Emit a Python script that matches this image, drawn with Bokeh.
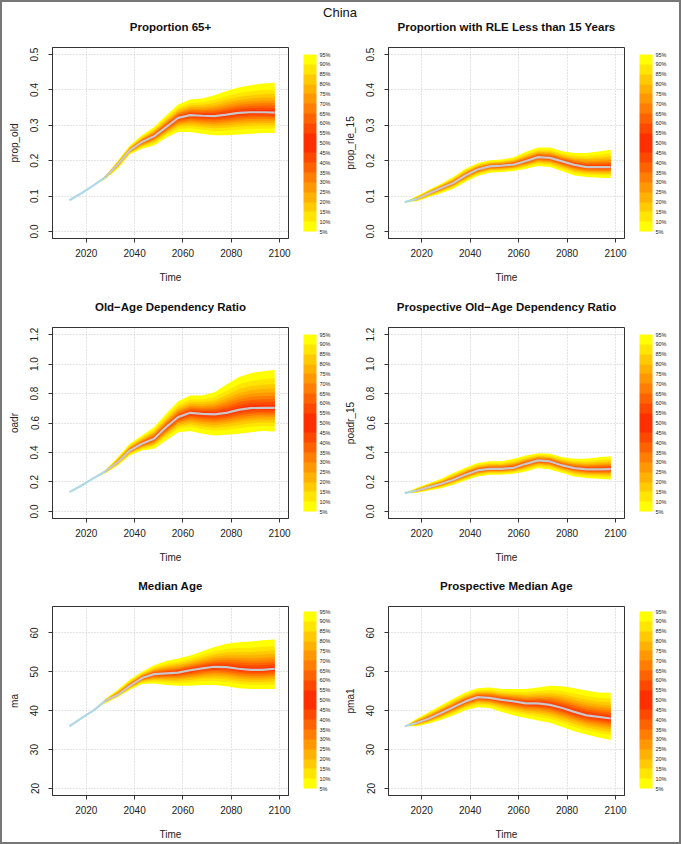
from statistics import NormalDist
from bokeh.plotting import figure
from bokeh.layouts import gridplot, column
from bokeh.models import (ColorBar, LinearColorMapper, FixedTicker,
                          PrintfTickFormatter, Range1d, AllLabels)
from bokeh.embed import file_html
from bokeh.resources import INLINE
from bokeh.core.properties import value

FONT = "Liberation Sans"

years = [2013, 2018, 2023, 2028, 2033, 2038, 2043, 2048, 2053,
         2058, 2063, 2068, 2073, 2078, 2083, 2088, 2093, 2098]
x_ticks = [2020, 2040, 2060, 2080, 2100]
legend_levels = list(range(5, 100, 5))

# --- Proportion 65+ (fan from 2023) ---
prop_old_med = [0.088, 0.108, 0.130, 0.154, 0.190, 0.229, 0.253, 0.269, 0.295,
                0.321, 0.329, 0.327, 0.326, 0.330, 0.335, 0.337, 0.337, 0.336]
prop_old_hi = [0.130, 0.158, 0.200, 0.243, 0.272, 0.295, 0.328, 0.359,
               0.373, 0.376, 0.385, 0.397, 0.407, 0.413, 0.418, 0.420]
prop_old_lo = [0.130, 0.149, 0.177, 0.218, 0.234, 0.243, 0.265, 0.281,
               0.281, 0.276, 0.272, 0.272, 0.274, 0.276, 0.278, 0.278]

# --- Proportion with RLE < 15 (fan from 2013) ---
rle_med = [0.083, 0.092, 0.108, 0.123, 0.137, 0.158, 0.175, 0.184, 0.186,
           0.189, 0.199, 0.210, 0.208, 0.198, 0.188, 0.182, 0.182, 0.182]
rle_hi = [0.083, 0.100, 0.118, 0.135, 0.154, 0.177, 0.193, 0.201, 0.203,
          0.210, 0.225, 0.237, 0.237, 0.227, 0.222, 0.222, 0.226, 0.231]
rle_lo = [0.083, 0.085, 0.097, 0.108, 0.121, 0.140, 0.157, 0.166, 0.168,
          0.171, 0.177, 0.185, 0.182, 0.170, 0.158, 0.154, 0.152, 0.151]

# --- Old-Age Dependency Ratio (fan from 2023) ---
oadr_med = [0.131, 0.176, 0.226, 0.273, 0.334, 0.414, 0.459, 0.493, 0.572,
            0.640, 0.669, 0.662, 0.658, 0.669, 0.689, 0.701, 0.703, 0.703]
oadr_hi = [0.226, 0.282, 0.368, 0.459, 0.515, 0.572, 0.662, 0.748,
           0.786, 0.786, 0.809, 0.861, 0.911, 0.938, 0.951, 0.960]
oadr_lo = [0.226, 0.260, 0.312, 0.380, 0.414, 0.425, 0.481, 0.538,
           0.545, 0.527, 0.515, 0.520, 0.527, 0.538, 0.545, 0.542]

# --- Prospective Old-Age Dependency Ratio (fan from 2013) ---
poadr_med = [0.124, 0.142, 0.165, 0.188, 0.215, 0.249, 0.278, 0.289, 0.289,
             0.296, 0.323, 0.346, 0.339, 0.312, 0.294, 0.285, 0.285, 0.287]
poadr_hi = [0.124, 0.160, 0.192, 0.221, 0.260, 0.296, 0.328, 0.341, 0.341,
            0.357, 0.380, 0.395, 0.391, 0.368, 0.357, 0.357, 0.368, 0.375]
poadr_lo = [0.124, 0.127, 0.142, 0.158, 0.181, 0.210, 0.237, 0.249, 0.249,
            0.255, 0.271, 0.294, 0.285, 0.260, 0.237, 0.226, 0.221, 0.217]

# --- Median Age (fan from 2023) ---
ma_med = [36.0, 38.1, 40.1, 42.6, 44.1, 46.4, 48.4, 49.4, 49.6,
          49.8, 50.4, 50.9, 51.3, 51.2, 50.8, 50.5, 50.5, 50.8]
ma_hi = [40.1, 43.1, 45.4, 48.0, 50.0, 51.7, 52.8, 53.4,
         54.2, 55.3, 56.4, 57.2, 57.6, 57.8, 58.1, 58.3]
ma_lo = [40.1, 42.0, 43.5, 45.4, 46.9, 47.0, 46.6, 46.4,
         46.4, 46.6, 46.6, 46.3, 45.8, 45.6, 45.6, 45.6]

# --- Prospective Median Age (fan from 2013) ---
pma_med = [36.0, 36.9, 38.0, 39.4, 40.9, 42.4, 43.5, 43.3, 42.8,
           42.4, 41.9, 41.9, 41.5, 40.7, 39.7, 38.8, 38.4, 38.0]
pma_hi = [36.0, 38.0, 39.7, 41.4, 43.1, 44.7, 45.8, 46.0, 45.6,
          45.6, 45.6, 46.0, 46.4, 46.3, 45.8, 45.2, 44.7, 44.6]
pma_lo = [36.0, 36.0, 36.7, 37.7, 38.8, 40.1, 40.9, 40.7, 39.7,
          38.8, 38.1, 37.5, 36.9, 35.8, 34.7, 33.9, 33.1, 32.5]

ratio_ticks_a = [0.0, 0.1, 0.2, 0.3, 0.4, 0.5]
ratio_ticks_b = [0.0, 0.2, 0.4, 0.6, 0.8, 1.0, 1.2]
age_ticks = [20, 30, 40, 50, 60]

main_title = "China"
titles = ["Proportion 65+", "Proportion with RLE Less than 15 Years",
          "Old\u2212Age Dependency Ratio",
          "Prospective Old\u2212Age Dependency Ratio",
          "Median Age", "Prospective Median Age"]


# colours: yellow outside -> red-orange at the centre
def band_color(d):
    g = int(round(255 - d * 26))
    return "#FF%02X00" % max(g, 0)


palette = [band_color(min(k, 17 - k)) for k in range(18)]

Z95 = NormalDist().inv_cdf(0.95)


def quantile_curves(med, lo, hi):
    curves = []
    for lv in legend_levels:
        f = NormalDist().inv_cdf(lv / 100.0) / Z95
        if f >= 0:
            curves.append([m + f * (h - m) for m, h in zip(med, hi)])
        else:
            curves.append([m + (-f) * (l - m) for m, l in zip(med, lo)])
    return curves


def make_panel(ylab, med, lo, hi, fan_start, blue_end, yrange, yticks,
               fmt, width, height, b_left, b_right, b_top, b_bottom, xr):
    p = figure(width=width, height=height, x_range=Range1d(*xr),
               y_range=Range1d(*yrange), output_backend="svg",
               toolbar_location=None, min_border_left=b_left,
               min_border_right=b_right, min_border_top=b_top,
               min_border_bottom=b_bottom)
    p.background_fill_color = "white"
    p.border_fill_color = "white"
    p.outline_line_color = "#333333"
    p.outline_line_width = 1

    fy = years[fan_start:]
    fmed = med[fan_start:]
    curves = quantile_curves(fmed, lo, hi)
    for d in range(9):
        p.varea(x=fy, y1=curves[d], y2=curves[18 - d], fill_color=palette[d])
    p.line(years[:blue_end + 1], med[:blue_end + 1], line_color="#ADD8E6",
           line_width=2.2)
    p.line(years[blue_end:], med[blue_end:], line_color="#C8C8C8",
           line_width=2.2)

    p.xaxis.ticker = FixedTicker(ticks=x_ticks)
    p.yaxis.ticker = FixedTicker(ticks=yticks)
    p.yaxis.formatter = PrintfTickFormatter(format=fmt)
    p.yaxis.major_label_orientation = "vertical"
    p.xaxis.axis_label = "Time"
    p.yaxis.axis_label = ylab
    for ax in (p.xaxis[0], p.yaxis[0]):
        ax.axis_line_color = "#333333"
        ax.major_tick_line_color = "#333333"
        ax.major_tick_out = 4
        ax.major_tick_in = 0
        ax.minor_tick_line_color = None
        ax.major_label_text_font = FONT
        ax.major_label_text_font_size = "10px"
        ax.major_label_text_color = "#222222"
        ax.axis_label_text_font = FONT
        ax.axis_label_text_font_size = "10px"
        ax.axis_label_text_font_style = "normal"
        ax.axis_label_text_color = "#222222"
    p.xaxis.major_label_standoff = 6
    p.xaxis.axis_label_standoff = 12
    p.yaxis.major_label_standoff = 10
    p.yaxis.axis_label_standoff = 8
    p.grid.grid_line_color = "#C8C8C8"
    p.grid.grid_line_dash = "1 2"
    p.grid.grid_line_width = 1

    cm = LinearColorMapper(palette=palette, low=5, high=95)
    cb = ColorBar(color_mapper=cm, ticker=FixedTicker(ticks=legend_levels),
                  formatter=PrintfTickFormatter(format="%d%%"), width=13,
                  height=177, major_label_text_font_size="5.5px",
                  major_label_text_font=FONT,
                  major_label_text_color="#222222",
                  major_label_policy=AllLabels(),
                  major_tick_line_color=None, bar_line_color=None,
                  label_standoff=3, padding=0, margin=0,
                  location=(15, 7), border_line_color=None,
                  background_fill_color=None)
    p.add_layout(cb, "right")
    return p


def make_strip(h, xs, ys, texts, sizes, styles):
    s = figure(width=TOTAL_W, height=h, x_range=Range1d(0, TOTAL_W),
               y_range=Range1d(h, 0), output_backend="svg",
               toolbar_location=None, min_border=0)
    s.outline_line_color = None
    s.axis.visible = False
    s.grid.visible = False
    for x, y, t, fs, st in zip(xs, ys, texts, sizes, styles):
        s.text(x=[x], y=[y], text=[t], text_align="center",
               text_baseline="middle", text_font_size=fs,
               text_font_style=st, text_font=value(FONT),
               text_color="#111111")
    return s


XR_L = (2006.0, 2103.7)
XR_R = (2006.3, 2103.7)
WL, WR = 338, 339
TOTAL_W = WL + WR
BL_L, BL_R = 50, 48
FW = 236
CX_L = BL_L + FW / 2
CX_R = WL + BL_R + FW / 2
rows = [(260, 11, 58), (260, 11, 58), (246, 10, 45)]

p1 = make_panel("prop_old", prop_old_med, prop_old_lo, prop_old_hi, 2, 3,
                (-0.02, 0.52), ratio_ticks_a, "%.1f", WL, rows[0][0], BL_L,
                WL - BL_L - FW, rows[0][1], rows[0][2], XR_L)
p2 = make_panel("prop_rle_15", rle_med, rle_lo, rle_hi, 0, 1,
                (-0.02, 0.52), ratio_ticks_a, "%.1f", WR, rows[0][0], BL_R,
                WR - BL_R - FW, rows[0][1], rows[0][2], XR_R)
p3 = make_panel("oadr", oadr_med, oadr_lo, oadr_hi, 2, 3,
                (-0.048, 1.248), ratio_ticks_b, "%.1f", WL, rows[1][0], BL_L,
                WL - BL_L - FW, rows[1][1], rows[1][2], XR_L)
p4 = make_panel("poadr_15", poadr_med, poadr_lo, poadr_hi, 0, 1,
                (-0.048, 1.248), ratio_ticks_b, "%.1f", WR, rows[1][0], BL_R,
                WR - BL_R - FW, rows[1][1], rows[1][2], XR_R)
p5 = make_panel("ma", ma_med, ma_lo, ma_hi, 2, 3, (18.2, 66.8), age_ticks,
                "%d", WL, rows[2][0], BL_L, WL - BL_L - FW, rows[2][1],
                rows[2][2], XR_L)
p6 = make_panel("pma1", pma_med, pma_lo, pma_hi, 0, 1, (18.2, 66.8),
                age_ticks, "%d", WR, rows[2][0], BL_R, WR - BL_R - FW,
                rows[2][1], rows[2][2], XR_R)

TS = "11.5px"
s1 = make_strip(34, [TOTAL_W / 2 - 1, CX_L, CX_R], [10, 24, 24],
                [main_title, titles[0], titles[1]], ["13px", TS, TS],
                ["normal", "bold", "bold"])
s2 = make_strip(20, [CX_L, CX_R], [10, 10], [titles[2], titles[3]],
                [TS, TS], ["bold", "bold"])
s3 = make_strip(20, [CX_L, CX_R], [9, 9], [titles[4], titles[5]],
                [TS, TS], ["bold", "bold"])

g1 = gridplot([[p1, p2]], toolbar_location=None)
g2 = gridplot([[p3, p4]], toolbar_location=None)
g3 = gridplot([[p5, p6]], toolbar_location=None)
layout = column(s1, g1, s2, g2, s3, g3,
                styles={"border": "2px solid #777777"})

open("out.html", "w").write(file_html(layout, INLINE))
